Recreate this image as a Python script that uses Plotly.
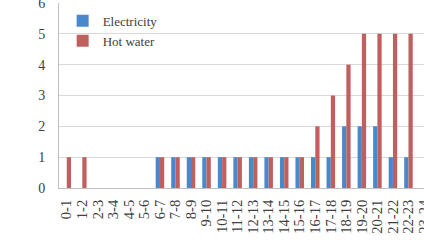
import plotly.graph_objects as go

hours = ["0-1", "1-2", "2-3", "3-4", "4-5", "5-6", "6-7", "7-8", "8-9", "9-10",
         "10-11", "11-12", "12-13", "13-14", "14-15", "15-16", "16-17", "17-18",
         "18-19", "19-20", "20-21", "21-22", "22-23", "23-24"]
electricity = [0, 0, 0, 0, 0, 0, 1, 1, 1, 1, 1, 1, 1, 1, 1, 1, 1, 1, 2, 2, 2, 1, 1, 0]
hot_water = [1, 1, 0, 0, 0, 0, 1, 1, 1, 1, 1, 1, 1, 1, 1, 1, 2, 3, 4, 5, 5, 5, 5, 5]

SERIF = "Liberation Serif, serif"
TXT = "#404040"

fig = go.Figure()
fig.add_trace(go.Bar(x=hours, y=electricity, name="Electricity",
                     marker=dict(color="#4A88CC", line=dict(width=0))))
fig.add_trace(go.Bar(x=hours, y=hot_water, name="Hot water",
                     marker=dict(color="#C0605E", line=dict(width=0))))

fig.update_layout(
    width=424, height=240,
    margin=dict(l=59, r=0, t=3, b=52, autoexpand=False),
    paper_bgcolor="white", plot_bgcolor="white",
    barmode="group", bargap=0.45, bargroupgap=0,
    font=dict(family=SERIF, color=TXT, size=13),
    legend=dict(x=0.01, y=0.985, xanchor="left", yanchor="top",
                bgcolor="rgba(0,0,0,0)", font=dict(size=13, family=SERIF, color=TXT),
                itemwidth=30, tracegroupgap=0),
    showlegend=True,
)
fig.update_xaxes(
    type="category", range=[-0.5, 23], tickangle=-90, dtick=1, automargin=False,
    showgrid=False, showline=True, linecolor="#BFBFBF", linewidth=1,
    ticks="", tickfont=dict(size=14.5, family=SERIF, color=TXT),
    ticklabelstandoff=5, ticklabeloverflow="allow", fixedrange=True,
)
fig.update_yaxes(
    range=[0, 6], dtick=1, showgrid=True, gridcolor="#D9D9D9", gridwidth=1, automargin=False,
    showline=True, linecolor="#BFBFBF", linewidth=1, zeroline=False,
    ticks="", tickfont=dict(size=14, family=SERIF, color=TXT),
    ticklabelstandoff=10, ticklabeloverflow="allow", fixedrange=True,
)

fig.write_html("out.html", config={"displayModeBar": False},
               post_script="document.body.style.margin='0px';")
